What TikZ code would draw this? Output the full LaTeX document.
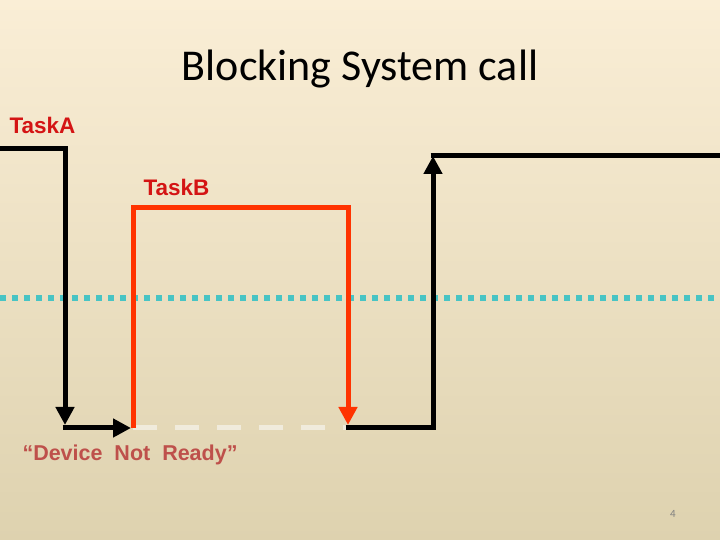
\documentclass[tikz,border=0pt]{standalone}
\usepackage{fontspec}
\setmainfont{Carlito}
\newfontfamily\arialfont[Ligatures=TeX]{Liberation Sans}
\usetikzlibrary{arrows.meta}
\definecolor{bgtop}{RGB}{250,238,214}
\definecolor{bgmid}{RGB}{244,232,206}
\definecolor{bgbot}{RGB}{222,210,175}
\definecolor{taskred}{RGB}{255,51,0}
\definecolor{labelred}{RGB}{212,20,20}
\definecolor{noterd}{RGB}{190,80,75}
\definecolor{dotteal}{RGB}{72,196,196}
\definecolor{idledash}{RGB}{240,235,220}

\begin{document}
\begin{tikzpicture}[x=1pt, y=1pt, line width=5pt, line join=miter,
    tip/.style={-{Triangle[length=18pt, width=18pt]}}]
            % Background
            \shade[top color=bgtop, middle color=bgmid, bottom color=bgbot] (0,0) rectangle (720,540);
            \useasboundingbox (0,0) rectangle (720,540);

            % Title
            \node[font=\fontsize{44}{48}\selectfont] (title) at (360,471) {Blocking System call};

            % Labels
            \node[anchor=base west, inner sep=0pt, text=labelred, font=\arialfont\bfseries\fontsize{22.5}{26}\selectfont] (labA) at (7,406) {TaskA};
            \node[anchor=base west, inner sep=0pt, text=labelred, font=\arialfont\bfseries\fontsize{22.5}{26}\selectfont] (labB) at (141,344) {TaskB};
            \node[anchor=base west, inner sep=0pt, text=noterd, font=\arialfont\bfseries\fontsize{21.5}{25}\selectfont] (note) at (20,79) {“Device\ \ Not\ \ Ready”};
            \node[text=black!50, font=\fontsize{11}{13}\selectfont] (page) at (673,26) {4};

            % Time points
            \coordinate (a0) at (0,391);
            \coordinate (a1) at (65,391);
            \coordinate (a2) at (65,112);
            \coordinate (b0) at (133,112);
            \coordinate (b1) at (133,332);
            \coordinate (b2) at (348,332);
            \coordinate (b3) at (348,112);
            \coordinate (c0) at (433,112);
            \coordinate (c1) at (433,384);
            \coordinate (c2) at (720,384);

            % Threshold
            \draw[dotteal, line width=6pt, dash pattern=on 6pt off 6pt] (0,242) -- (720,242);

            % Idle gap
            \draw[idledash, dash pattern=on 24pt off 18pt] (b0) -- (b3);

            % Task A
            \draw[tip] (a0) -- (a1) -- ([yshift=3pt]a2);
            \draw[tip] ([xshift=-2.5pt]a2) -- ([xshift=-2pt]b0);

            % Task B
            \draw[taskred, tip] (b0) -- (b1) -- (b2) -- ([yshift=3pt]b3);

            % Task A again
            \draw ([xshift=-2.5pt]b3) -- ([xshift=2.5pt]c0);
            \draw[tip] (c0) -- (c1);
            \draw ([xshift=-2.5pt]c1) -- (c2);
\end{tikzpicture}
\end{document}
